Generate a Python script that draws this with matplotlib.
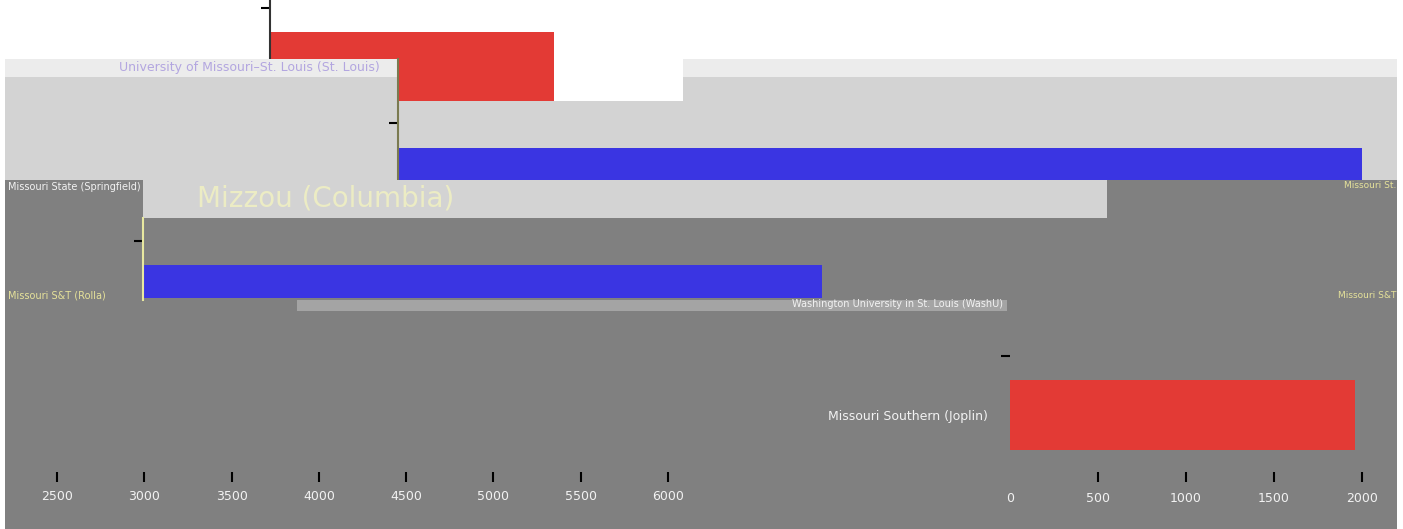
import matplotlib
matplotlib.use('Agg')
import matplotlib.pyplot as plt
from matplotlib.patches import Rectangle

# data
a_labels = ['University of Missouri–St. Louis (St. Louis)', '']
a_values = [1620, 0]
b_labels = ['Mizzou (Columbia)', '']
b_values = [5510, 0]
c_labels = ['Missouri S&T (Rolla)', '']
c_values = [3880, 0]
d_labels = ['Missouri Southern (Joplin)', '']
d_values = [1960, 0]
left_ticks = [2500, 3000, 3500, 4000, 4500, 5000, 5500, 6000]
right_ticks = [0, 500, 1000, 1500, 2000]

W, H = 1403, 529
RED = '#e33a35'
BLUE = '#3a35e2'
GRAY = '#808080'
LIGHT = '#d3d3d3'
STRIP = '#ececec'
TXT = '#f2f2f2'


def box(x0, y0, x1, y1):
    # pixel box (top-left origin) -> figure fraction rect
    return [x0 / W, 1 - y1 / H, (x1 - x0) / W, (y1 - y0) / H]


def rect(fig, x0, y0, x1, y1, color, z):
    l, b, w, h = box(x0, y0, x1, y1)
    fig.add_artist(Rectangle((l, b), w, h, transform=fig.transFigure,
                             facecolor=color, edgecolor='none', zorder=z))


def bar_panel(fig, pos, z, labels, values, c0, step, bar_px, px_per_unit,
              color=RED, face='none', spine_color=None):
    """Horizontal bars in an axes placed by pixel box; category 0 sits at pixel c0."""
    x0, top, x1, bot = pos
    ax = fig.add_axes(box(x0, top, x1, bot))
    ax.set_zorder(z)
    ax.set_facecolor(face)
    ys = [0, 1]
    ax.barh(ys, values, height=bar_px / step, color=color, align='center')
    ax.set_xlim(0, (x1 - x0) / px_per_unit)
    ax.set_ylim((c0 - bot) / step, (c0 - top) / step)
    ax.set_yticks(ys)
    ax.set_yticklabels(['', ''])
    ax.set_xticks([])
    for s in ax.spines.values():
        s.set_visible(False)
    if spine_color:
        ax.spines['left'].set_visible(True)
        ax.spines['left'].set_color(spine_color)
        ax.spines['left'].set_linewidth(1.5)
    ax.tick_params(axis='y', length=6.5, width=1.5, color='black')
    # only the empty category keeps its tick mark
    ax.yaxis.get_major_ticks()[0].tick1line.set_visible(False)
    return ax


fig = plt.figure(figsize=(W / 100, H / 100), dpi=100)
fig.patch.set_facecolor('white')

# background blocks
rect(fig, 5, 180, 1397, 529, GRAY, 0.1)
rect(fig, 398, 59, 1397, 180, LIGHT, 0.2)
rect(fig, 398, 59, 1397, 77, STRIP, 0.21)

# top panel (St. Louis)
ax_a = bar_panel(fig, (270, 0, 683, 101), 0.3, a_labels, a_values,
                 66.5, 58.5, 69, 0.175, face='white', spine_color='#333333')

rect(fig, 5, 59, 398, 180, LIGHT, 0.4)
rect(fig, 5, 59, 398, 77, STRIP, 0.41)

# second panel (Columbia)
ax_b = bar_panel(fig, (398, 59, 1397, 180), 0.5, b_labels, b_values,
                 164, 41, 32, 0.175, color=BLUE, spine_color='#7a7a50')

rect(fig, 143, 180, 1107, 218, LIGHT, 0.6)

# third panel (Rolla)
ax_c = bar_panel(fig, (143, 218, 1107, 300), 0.7, c_labels, c_values,
                 281.5, 40.5, 33, 0.175, color=BLUE, spine_color='#e8e8a0')

rect(fig, 297, 300, 1007, 311, '#a4a4a4', 0.8)

# bottom right panel (Joplin)
ax_d = bar_panel(fig, (1010, 340, 1397, 472), 0.9, d_labels, d_values,
                 415, 59, 70, 0.176)
ax_d.set_yticklabels(d_labels, color=TXT, fontsize=9)
ax_d.tick_params(axis='y', pad=9.5)
ax_d.set_xticks(right_ticks)
ax_d.set_xticklabels([str(t) for t in right_ticks], color=TXT, fontsize=9)
ax_d.tick_params(axis='x', length=7.2, width=1.5, color='black', pad=7)
ax_d.xaxis.get_major_ticks()[0].tick1line.set_visible(False)

# bottom left tick strip
px_unit = (668 - 57) / (6000 - 2500)
ax_e = fig.add_axes(box(5, 440, 690, 472))
ax_e.set_zorder(1.0)
ax_e.set_facecolor('none')
ax_e.set_xlim(2500 - 52 / px_unit, 2500 + 633 / px_unit)
ax_e.set_xticks(left_ticks)
ax_e.set_xticklabels([str(t) for t in left_ticks], color=TXT, fontsize=9)
ax_e.tick_params(axis='x', length=7.2, width=1.5, color='black', pad=6)
ax_e.set_yticks([])
for s in ax_e.spines.values():
    s.set_visible(False)

# category labels that sit on top of the blocks
fig.text(380 / W, 1 - 68 / H, a_labels[0], ha='right', va='center',
         fontsize=9, color='#b3a6e0', zorder=5)
fig.text(197 / W, 1 - 199 / H, b_labels[0], ha='left', va='center',
         fontsize=20, color='#ececc4', zorder=5)
fig.text(8 / W, 1 - 187 / H, 'Missouri State (Springfield)', ha='left', va='center',
         fontsize=7, color=TXT, zorder=5)
fig.text(8 / W, 1 - 296 / H, c_labels[0], ha='left', va='center',
         fontsize=7, color='#e6e29a', zorder=5)
fig.text(1396 / W, 1 - 186 / H, 'Missouri St.', ha='right', va='center',
         fontsize=6.5, color='#e6e29a', zorder=5)
fig.text(1396 / W, 1 - 295 / H, 'Missouri S&T', ha='right', va='center',
         fontsize=6.5, color='#e6e29a', zorder=5)
fig.text(792 / W, 1 - 304 / H, 'Washington University in St. Louis (WashU)', ha='left',
         va='center', fontsize=7, color=TXT, zorder=5)

fig.savefig('out.png', dpi=100, facecolor=fig.get_facecolor())
